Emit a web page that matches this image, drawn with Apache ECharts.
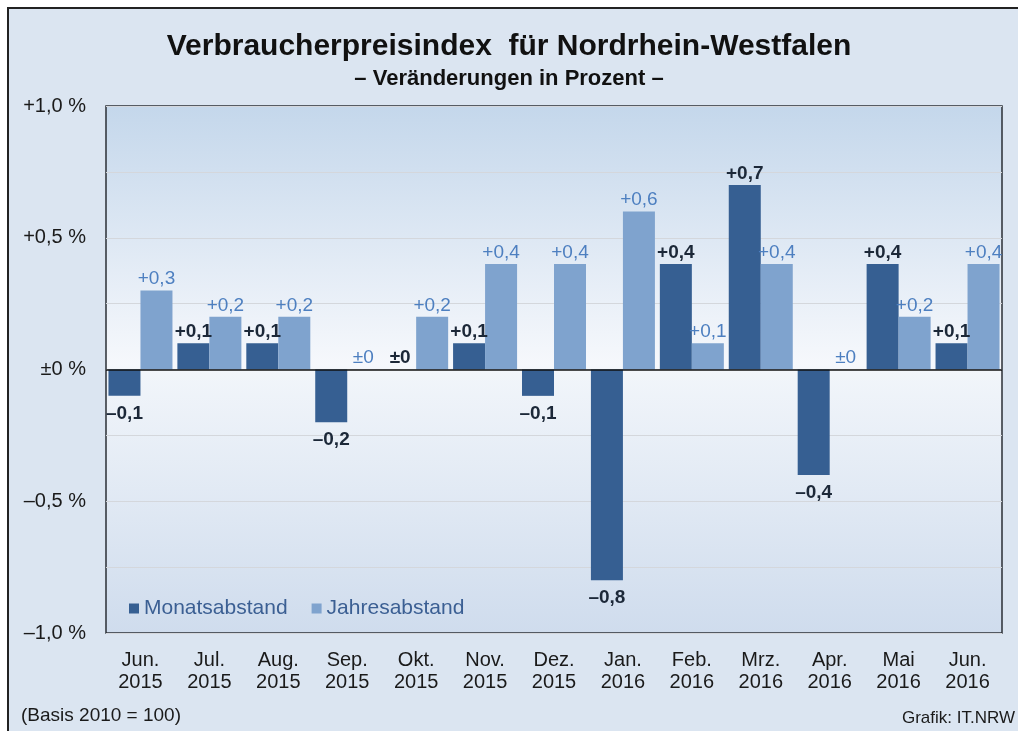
<!DOCTYPE html>
<html>
<head>
<meta charset="utf-8">
<script src="https://cdn.jsdelivr.net/npm/echarts@6/dist/echarts.min.js"></script>
<style>
html,body{margin:0;padding:0;background:#fff;overflow:hidden;}
#frame{position:absolute;left:7px;top:7px;width:1030px;height:740px;border:2px solid #222;background:#dbe5f1;}
#main{position:absolute;left:0;top:0;width:1018px;height:731px;}
</style>
</head>
<body>
<div id="frame"></div>
<div id="main"></div>
<script>
// Monate (Achsenbeschriftung)
var monate = ['Jun.\n2015','Jul.\n2015','Aug.\n2015','Sep.\n2015','Okt.\n2015','Nov.\n2015','Dez.\n2015',
	'Jan.\n2016','Feb.\n2016','Mrz.\n2016','Apr.\n2016','Mai\n2016','Jun.\n2016'];
// Veränderung gegenüber Vormonat
var monatsabstand = [-0.1, 0.1, 0.1, -0.2, 0, 0.1, -0.1, -0.8, 0.4, 0.7, -0.4, 0.4, 0.1];
// Veränderung gegenüber Vorjahresmonat
var jahresabstand = [0.3, 0.2, 0.2, 0, 0.2, 0.4, 0.4, 0.6, 0.1, 0.4, 0, 0.2, 0.4];
var yLabels = {'1': '+1,0 %', '0.5': '+0,5 %', '0': '±0 %', '-0.5': '–0,5 %', '-1': '–1,0 %'};

function fmt(v){
	if (v == 0) return '±0';
	var s = Math.abs(v).toFixed(1).replace('.', ',');
	return (v > 0 ? '+' : '–') + s;
}
function items(arr){
	var out = [];
	for (var i = 0; i < arr.length; i++){
		if (arr[i] < 0){
			out.push({value: arr[i], label: {position: 'bottom', distance: 8}});
		}else{
			out.push({value: arr[i], label: {position: 'top'}});
		}
	}
	return out;
}

var myChart = echarts.init(document.getElementById('main'));
var font = 'Arial, "Liberation Sans", sans-serif';
var option = {
	backgroundColor: 'transparent',
	animation: false,
	textStyle: {fontFamily: font},
	title: {
		text: 'Verbraucherpreisindex  für Nordrhein-Westfalen',
		subtext: '– Veränderungen in Prozent –',
		left: 'center',
		top: 27,
		itemGap: 6,
		textStyle: {fontSize: 30, fontWeight: 'bold', color: '#111', fontFamily: font},
		subtextStyle: {fontSize: 22, fontWeight: 'bold', color: '#111', fontFamily: font}
	},
	legend: {
		left: 124,
		top: 593,
		icon: 'rect',
		itemWidth: 10,
		itemHeight: 10,
		itemGap: 24,
		textStyle: {fontSize: 21, color: '#3b5f93', fontFamily: font},
		data: ['Monatsabstand', 'Jahresabstand']
	},
	grid: {
		left: 106, top: 106, right: 16, bottom: 98,
		show: true,
		borderColor: '#2b2f36',
		borderWidth: 1.5,
		backgroundColor: new echarts.graphic.LinearGradient(0, 0, 0, 1, [
			{offset: 0, color: '#c4d7eb'},
			{offset: 0.49, color: '#f6f8fc'},
			{offset: 0.51, color: '#f1f5fa'},
			{offset: 1, color: '#cfdced'}
		])
	},
	xAxis: {
		type: 'category',
		data: monate,
		axisLine: {show: false},
		axisTick: {show: false},
		axisLabel: {fontSize: 20, lineHeight: 22, color: '#1a1a1a', margin: 16, interval: 0}
	},
	yAxis: {
		type: 'value',
		min: -1,
		max: 1,
		interval: 0.25,
		axisLine: {show: false},
		axisTick: {show: false},
		splitLine: {lineStyle: {color: '#d4d7dc', width: 1}},
		axisLabel: {
			fontSize: 20,
			color: '#1a1a1a',
			margin: 20,
			formatter: function (v){ return yLabels[String(v)] || ''; }
		}
	},
	series: [
		{
			name: 'Monatsabstand',
			type: 'bar',
			barWidth: 32,
			barGap: '0%',
			itemStyle: {color: '#365f92'},
			label: {
				show: true,
				distance: 2,
				fontSize: 19,
				fontWeight: 'bold',
				color: '#1c2838',
				formatter: function (p){ return fmt(p.value); }
			},
			data: items(monatsabstand),
			markLine: {
				silent: true,
				symbol: 'none',
				label: {show: false},
				lineStyle: {color: '#111', width: 1.5, type: 'solid'},
				data: [{yAxis: 0}]
			}
		},
		{
			name: 'Jahresabstand',
			type: 'bar',
			barWidth: 32,
			barGap: '0%',
			itemStyle: {color: '#7fa3ce'},
			label: {
				show: true,
				distance: 2,
				fontSize: 19,
				color: '#4d7fc0',
				formatter: function (p){ return fmt(p.value); }
			},
			data: items(jahresabstand)
		}
	],
	graphic: [
		{
			type: 'text', left: 21, top: 706,
			style: {text: '(Basis 2010 = 100)', fontSize: 19, fill: '#1a1a1a', fontFamily: font}
		},
		{
			type: 'text', right: 3, top: 710,
			style: {text: 'Grafik: IT.NRW', fontSize: 17, fill: '#1a1a1a', fontFamily: font}
		}
	]
};
myChart.setOption(option);
</script>
</body>
</html>
